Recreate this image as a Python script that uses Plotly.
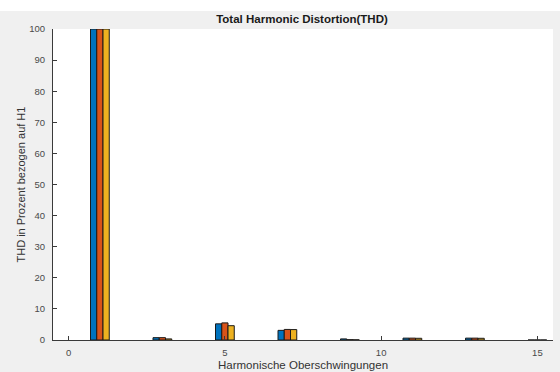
import plotly.graph_objects as go

# Odd harmonics and THD per harmonic (percent of H1) for three phases
harmonics = [1, 3, 5, 7, 9, 11, 13, 15]
phase_a = [100, 0.75, 5.2, 3.1, 0.35, 0.6, 0.6, 0.0]
phase_b = [100, 0.75, 5.5, 3.4, 0.1, 0.6, 0.6, 0.0]
phase_c = [100, 0.35, 4.6, 3.35, 0.05, 0.55, 0.55, 0.0]

x_ticks = [0, 5, 10, 15]
y_ticks = list(range(0, 101, 10))

colors = ["#0072BD", "#D95319", "#EDB120"]
font_family = "Liberation Sans, Arial, sans-serif"
axis_color = "#3a3a3a"

fig = go.Figure()
for name, vals, col in zip(["L1", "L2", "L3"], [phase_a, phase_b, phase_c], colors):
    fig.add_trace(go.Bar(
        x=harmonics, y=vals, name=name,
        marker=dict(color=col, line=dict(color="#1a1a1a", width=1)),
    ))

W, H = 560, 372
ml, mr, mt, mb = 53, 7, 29, 32
pw, ph = W - ml - mr, H - mt - mb

fig.update_layout(
    width=W, height=H,
    margin=dict(l=ml, r=mr, t=mt, b=mb, pad=0),
    paper_bgcolor="#f0f0f0",
    plot_bgcolor="white",
    barmode="group",
    bargap=0.7,
    bargroupgap=0,
    showlegend=False,
    font=dict(family=font_family, color="#404040"),
    title=dict(
        text="<b>Total Harmonic Distortion(THD)</b>",
        x=(302 / W), xanchor="center",
        y=1 - 19 / H, yanchor="middle",
        font=dict(size=11.5, color="#1a1a1a", family=font_family),
    ),
    xaxis=dict(
        range=[-0.5, 15.5],
        tickmode="array", tickvals=x_ticks,
        ticks="inside", ticklen=4, tickcolor=axis_color,
        showline=True, linecolor=axis_color, linewidth=1,
        showgrid=False, zeroline=False,
        tickfont=dict(size=9.5, color="#4a4a4a"),
        ticklabelstandoff=4,
    ),
    yaxis=dict(
        range=[0, 100],
        tickmode="array", tickvals=y_ticks,
        ticks="inside", ticklen=4, tickcolor=axis_color,
        showline=True, linecolor=axis_color, linewidth=1,
        showgrid=False, zeroline=False,
        tickfont=dict(size=9.5, color="#4a4a4a"),
        ticklabelstandoff=5,
    ),
    shapes=[
        # white strip along the top edge of the figure window
        dict(type="rect", xref="paper", yref="paper",
             x0=-ml / pw - 0.01, x1=1 + mr / pw + 0.01,
             y0=1 + (mt - 11) / ph, y1=1 + mt / ph + 0.01,
             fillcolor="white", line=dict(width=0), layer="below"),
    ],
    annotations=[
        dict(text="THD in Prozent bezogen auf H1", textangle=-90,
             xref="paper", yref="paper",
             x=(20 - ml) / pw, y=0.5, xanchor="center", yanchor="middle",
             showarrow=False, font=dict(size=11, color="#333333")),
        dict(text="Harmonische Oberschwingungen",
             xref="paper", yref="paper",
             x=(303 - ml) / pw, y=-(365 - (H - mb)) / ph,
             xanchor="center", yanchor="middle",
             showarrow=False, font=dict(size=11.5, color="#333333")),
    ],
)

fig.write_html("out.html")
